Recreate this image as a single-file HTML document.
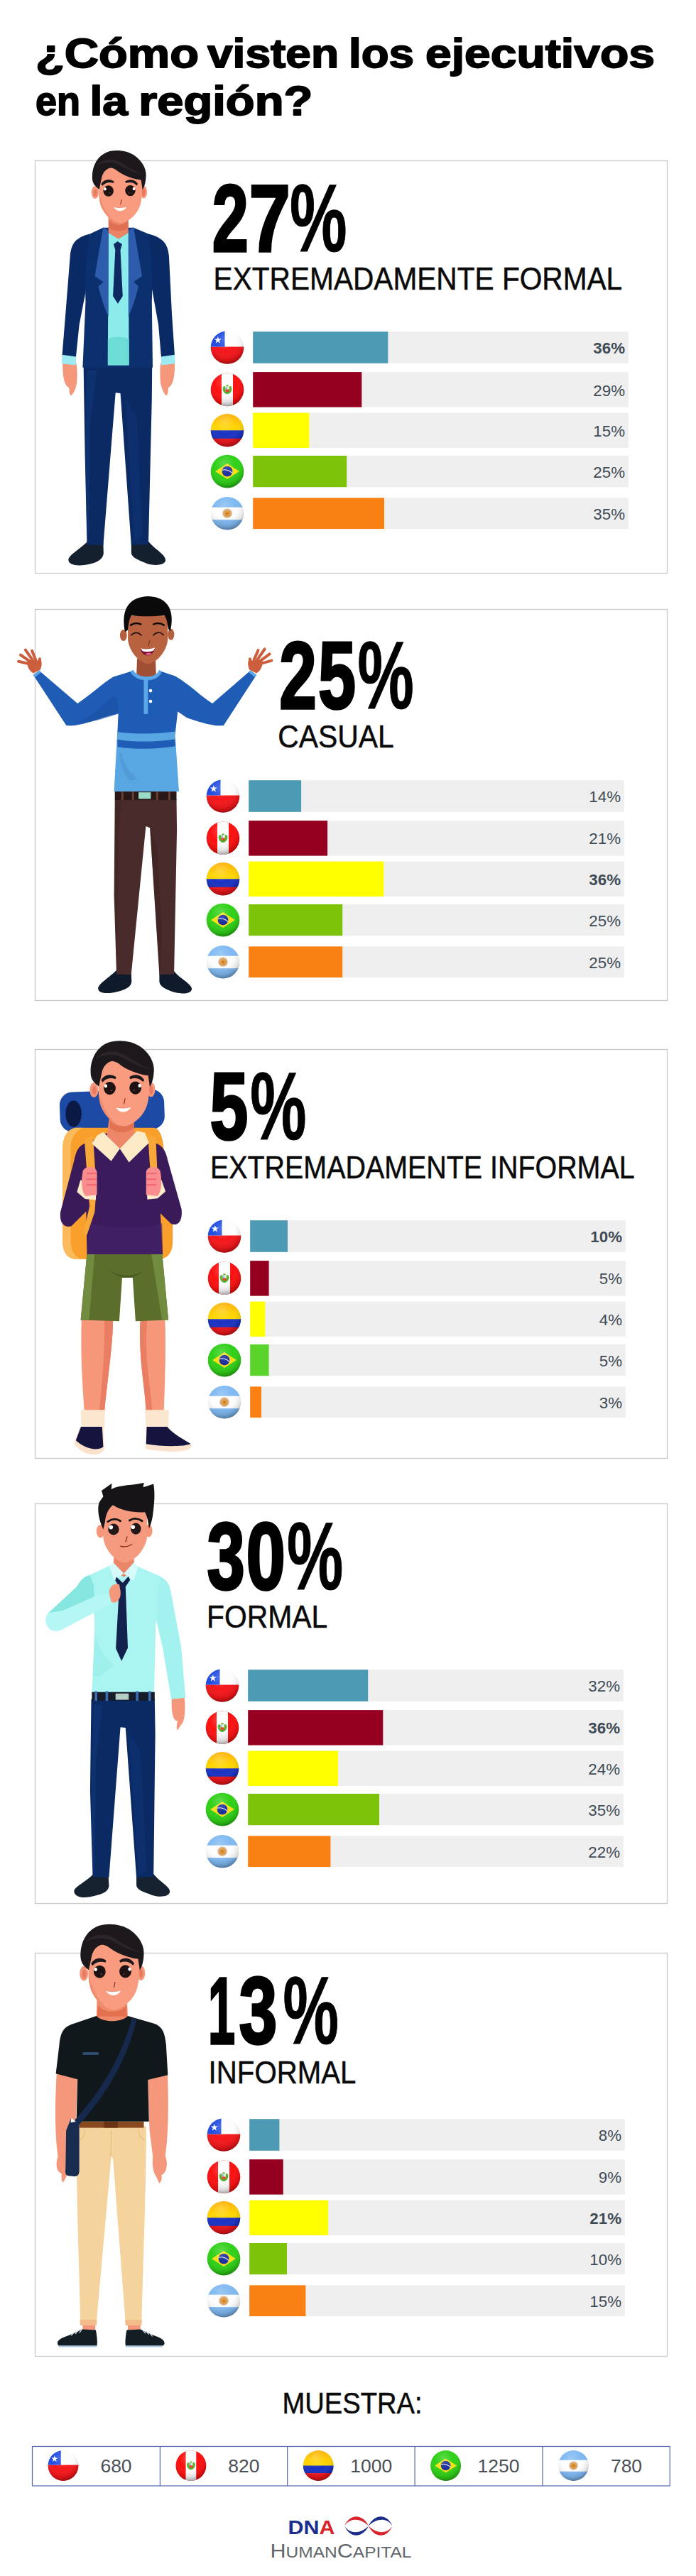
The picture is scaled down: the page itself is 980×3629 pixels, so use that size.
<!DOCTYPE html>
<html lang="es"><head><meta charset="utf-8"><title>¿Cómo visten los ejecutivos en la región?</title>
<style>
html,body{margin:0;padding:0;background:#fff}
svg{display:block}
text{font-family:"Liberation Sans",Arial,sans-serif}
.t{font-weight:bold;font-size:56.5px;fill:#000;stroke:#000;stroke-width:1.8px;stroke-linejoin:round}
.num{font-weight:bold;font-size:133.5px;fill:#000;stroke:#000;stroke-width:3.6px;stroke-linejoin:miter}
.npc{font-size:136px;stroke-width:1.2px}
.lab{font-size:44.6px;fill:#0a0a0a;stroke:#0a0a0a;stroke-width:.5px}
.pc{font-size:22.3px;fill:#3f4b55;text-anchor:end}
.pcb{font-weight:bold}
.tn{font-size:26.5px;fill:#4a4f55}
.panel{fill:#fff;stroke:#c9c9c9;stroke-width:1.3}
.trk{fill:#efefef}
</style></head><body>
<svg width="980" height="3629" viewBox="0 0 980 3629">
<defs>
<clipPath id="fc"><circle r="23.3"/></clipPath>
<radialGradient id="fsh" cx="0.45" cy="0.32" r="0.72" fx="0.42" fy="0.25">
<stop offset="0" stop-color="#fff" stop-opacity=".22"/><stop offset=".45" stop-color="#fff" stop-opacity="0"/>
<stop offset=".8" stop-color="#000" stop-opacity=".12"/><stop offset="1" stop-color="#000" stop-opacity=".42"/></radialGradient>
<linearGradient id="coy" x1="0" y1="0" x2="0" y2="1"><stop offset="0" stop-color="#ffb010"/><stop offset=".7" stop-color="#ffd200"/><stop offset="1" stop-color="#ffd800"/></linearGradient>
<g id="fl-cl"><g clip-path="url(#fc)"><rect x="-24" y="-24" width="48" height="24" fill="#fdfdfd"/><rect x="-24" y="-1" width="48" height="25" fill="#f5161a"/><rect x="-24" y="-24" width="20.5" height="23" fill="#1f4be0"/>
<path fill="#fff" d="M-13.2,-15.6l1.25,3.6h3.8l-3.05,2.3 1.15,3.65-3.15-2.2-3.15,2.2 1.15-3.65-3.05-2.3h3.8z"/></g><circle r="23.3" fill="url(#fsh)"/></g>
<g id="fl-pe"><g clip-path="url(#fc)"><rect x="-24" y="-24" width="48" height="48" fill="#fb1010"/><rect x="-8" y="-24" width="16" height="48" fill="#fbfbfb"/>
<path fill="#4fb02a" d="M-6.4,-1.5C-6.4,-4 -4.5,-5.5 -3,-4.5L-2.2,-2.5 2.2,-2.5 3,-4.5C4.5,-5.5 6.4,-4 6.4,-1.5C6.4,3 3.5,6 0,6.2C-3.500,6 -6.4,3 -6.4,-1.500z"/><rect x="-2.6" y="-3.4" width="5.2" height="6.6" rx="1.2" fill="#f0c030"/><rect x="-2.6" y="-3.4" width="2.6" height="3" fill="#7ab8e0"/><rect x="0" y="-3.4" width="2.600" height="3" fill="#f4f4f4"/><rect x="-2.6" y="-.4" width="5.200" height="3.600" rx="1" fill="#e04030"/><rect x="-1.8" y="-6.6" width="3.6" height="2.2" rx="1" fill="#58a82c"/></g><circle r="23.3" fill="url(#fsh)"/></g>
<g id="fl-co"><g clip-path="url(#fc)"><rect x="-24" y="-24" width="48" height="24.5" fill="url(#coy)"/><rect x="-24" y="0" width="48" height="12" fill="#1a32c4"/><rect x="-24" y="11.5" width="48" height="13" fill="#f0161c"/></g><circle r="23.3" fill="url(#fsh)"/></g>
<g id="fl-br"><g clip-path="url(#fc)"><rect x="-24" y="-24" width="48" height="48" fill="#2fd018"/><path fill="#f7e018" d="M-17,0L0,-11 17,0 0,11z"/><circle r="7.4" fill="#1c2f9c"/><path d="M-7,-1.8C-2,-3.4 4,-1 7.2,2.6" fill="none" stroke="#e8f0ff" stroke-width="1.1"/></g><circle r="23.3" fill="url(#fsh)"/></g>
<g id="fl-ar"><g clip-path="url(#fc)"><rect x="-24" y="-24" width="48" height="48" fill="#fdfdfd"/><rect x="-24" y="-24" width="48" height="15.5" fill="#7fb9f2"/><rect x="-24" y="9" width="48" height="15" fill="#7fb9f2"/><circle r="6.6" fill="#d8a878"/><circle r="4" fill="#e0932c"/><circle r="1.4" fill="#b86a20"/></g><circle r="23.3" fill="url(#fsh)"/></g>

<g id="hd">
<ellipse cx="140" cy="448" rx="30" ry="52" fill="#f4977b"/><ellipse cx="540" cy="445" rx="28" ry="52" fill="#f4977b"/>
<ellipse cx="142" cy="452" rx="14" ry="30" fill="#e87a60"/><ellipse cx="540" cy="449" rx="13" ry="30" fill="#e87a60"/>
<path fill="#f89b7e" d="M170,240 L172,470 C176,520 184,548 192,570 C215,620 250,660 290,682 C320,698 335,702 350,702 C365,702 380,698 408,682 C448,660 485,620 506,570 C514,548 522,520 526,470 L528,240Z"/>
<path fill="#ee8468" d="M172,470 C176,520 184,548 192,570 C215,620 250,660 290,682 C250,640 215,590 200,540Z" opacity=".7"/>
<path fill="#1c181c" d="M118,345 C108,250 150,150 240,116 C300,94 400,98 470,148 C530,192 566,258 559,322 C557,362 548,398 531,428 L519,346 C470,344 380,312 330,276 C300,252 280,246 262,247 C226,256 202,290 194,330 L174,424 C150,404 124,384 118,345Z"/>
<path fill="#2b2429" d="M150,230 C200,170 290,160 360,205 C420,245 490,290 555,300 C500,300 420,270 350,228 C290,190 210,195 150,230Z"/>
<ellipse cx="250" cy="436" rx="42" ry="45" fill="#1e1212"/><ellipse cx="430" cy="434" rx="42" ry="45" fill="#1e1212"/>
<ellipse cx="222" cy="420" rx="11" ry="13" fill="#fff"/><ellipse cx="460" cy="418" rx="11" ry="13" fill="#fff"/>
<circle cx="262" cy="452" r="5" fill="#6a4a40"/><circle cx="420" cy="452" r="5" fill="#6a4a40"/>
<path fill="#1c181c" d="M190,380 C212,338 262,332 296,358 L290,372 C262,360 225,366 200,394Z"/><path fill="#1c181c" d="M388,358 C422,332 468,338 492,378 L484,392 C460,366 425,360 394,372Z"/>
<path d="M358,508 L350,546" stroke="#6a2418" stroke-width="5" fill="none" stroke-linecap="round"/>
<path fill="#fff" d="M292,568 Q346,584 402,566 Q380,602 346,602 Q312,602 292,568Z"/>
<path d="M292,568 Q346,584 402,566" stroke="#e27a60" stroke-width="3" fill="none"/>
</g>

</defs>
<rect width="980" height="3629" fill="#fff"/>
<g id="title"><text class="t" x="50.0" y="94.7" textLength="230.0" lengthAdjust="spacingAndGlyphs">¿Cómo</text><text class="t" x="292.0" y="94.7" textLength="185.0" lengthAdjust="spacingAndGlyphs">visten</text><text class="t" x="491.0" y="94.7" textLength="92.0" lengthAdjust="spacingAndGlyphs">los</text><text class="t" x="599.0" y="94.7" textLength="323.0" lengthAdjust="spacingAndGlyphs">ejecutivos</text><text class="t" x="50.0" y="161.5" textLength="63.0" lengthAdjust="spacingAndGlyphs">en</text><text class="t" x="126.4" y="161.5" textLength="53.6" lengthAdjust="spacingAndGlyphs">la</text><text class="t" x="195.3" y="161.5" textLength="245.0" lengthAdjust="spacingAndGlyphs">región?</text></g>

<g id="panel1">
<rect class="panel" x="49.5" y="226.5" width="890" height="581"/>
<g id="fig1" transform="translate(40,200) scale(0.4023)">
<!-- shoes -->
<path fill="#15202e" d="M208,1398 L262,1402 L263,1440 C262,1462 238,1476 200,1481 C165,1486 140,1480 140,1463 C140,1448 180,1425 208,1398Z"/>
<path fill="#15202e" d="M360,1402 L420,1398 C440,1425 482,1445 480,1465 C478,1484 440,1484 418,1478 C392,1466 362,1458 360,1440Z"/>
<!-- trousers -->
<path fill="#0b2a63" d="M193,785 L433,785 L432,900 L420,1410 L360,1412 L322,880 L305,878 L262,1412 L205,1410 L198,1100Z"/>
<path fill="#123a80" d="M205,800 L240,800 L215,1000 L212,1380 L205,1380 L199,1100Z" opacity=".45"/>
<path fill="#123a80" d="M340,900 L380,960 L400,1380 L370,1400Z" opacity=".35"/>
<!-- hands -->
<path fill="#f4977b" d="M120,770 L168,775 C172,810 172,842 166,858 C162,872 156,882 150,888 C142,884 144,870 142,860 C130,856 118,830 120,770Z"/>
<path fill="#f4977b" d="M462,775 L512,770 C514,830 502,856 490,860 C488,870 490,884 482,888 C476,882 470,872 466,858 C460,842 460,810 462,775Z"/>
<!-- sleeves -->
<path fill="#0a2a66" d="M215,322 C165,335 150,355 146,400 L130,600 L118,748 L166,756 L178,640 L205,500 L215,420Z"/>
<path fill="#0a2a66" d="M420,322 C470,335 488,355 492,400 L502,600 L512,748 L465,756 L455,640 L430,500 L420,420Z"/>
<!-- cuffs -->
<path fill="#9eeaf2" d="M118,745 L167,752 L166,782 L116,776Z"/>
<path fill="#9eeaf2" d="M464,752 L512,745 L514,776 L465,782Z"/>
<!-- jacket body -->
<path fill="#0c2f6e" d="M262,300 L215,322 C200,400 198,480 200,560 L190,790 L435,790 L432,560 C435,480 432,400 420,322 L368,300Z"/>
<!-- neck -->
<path fill="#ea8466" d="M280,262 L350,262 L350,330 L315,345 L280,330Z"/>
<path fill="#dc6a4c" d="M282,272 C300,296 334,296 349,272 L350,300 C334,316 298,316 281,300Z" opacity=".75"/>
<!-- shirt -->
<path fill="#8cecec" d="M280,318 L315,340 L350,318 L352,782 L278,782Z"/>
<path fill="#6edcd6" d="M278,690 C300,680 330,680 352,690 L352,782 L278,782Z"/>
<!-- lapels -->
<path fill="#2c5cab" d="M262,298 L280,310 L280,612 C262,570 250,530 245,505 L262,490 L232,470Z"/>
<path fill="#2c5cab" d="M368,298 L350,310 L350,612 C368,570 380,530 385,505 L368,490 L398,470Z"/>
<!-- tie -->
<path fill="#0d2a63" d="M298,358 L312,348 L328,358 L322,378 L330,540 L313,566 L296,540 L304,378Z"/>
<use href="#hd" transform="translate(173.8,-13.9) scale(0.425)"/>
</g>

<text class="num" x="298.8" y="353.5" textLength="51.1" lengthAdjust="spacingAndGlyphs">2</text>
<text class="num" x="350.7" y="353.5" textLength="58.1" lengthAdjust="spacingAndGlyphs">7</text>
<text class="num npc" x="408.1" y="353.5" textLength="80.5" lengthAdjust="spacingAndGlyphs">%</text>
<text class="lab" x="300.6" y="408.1" textLength="575.6" lengthAdjust="spacingAndGlyphs">EXTREMADAMENTE FORMAL</text>
<rect class="trk" x="356.2" y="467.2" width="528.6" height="44.6"/>
<rect fill="#4d9ab5" x="356.2" y="467.2" width="190.1" height="44.6"/>
<use href="#fl-cl" x="320.0" y="489.5"/>
<text class="pc pcb" x="880.0" y="498.1">36%</text>
<rect class="trk" x="356.2" y="524.1" width="528.6" height="49.5"/>
<rect fill="#960020" x="356.2" y="524.1" width="153.1" height="49.5"/>
<use href="#fl-pe" x="320.0" y="548.9"/>
<text class="pc" x="880.0" y="557.5">29%</text>
<rect class="trk" x="356.2" y="581.6" width="528.6" height="49.4"/>
<rect fill="#ffff00" x="356.2" y="581.6" width="79.2" height="49.4"/>
<use href="#fl-co" x="320.0" y="606.3"/>
<text class="pc" x="880.0" y="614.9">15%</text>
<rect class="trk" x="356.2" y="642.0" width="528.6" height="44.2"/>
<rect fill="#7dc30a" x="356.2" y="642.0" width="132.0" height="44.2"/>
<use href="#fl-br" x="320.0" y="664.1"/>
<text class="pc" x="880.0" y="672.7">25%</text>
<rect class="trk" x="356.2" y="701.4" width="528.6" height="43.7"/>
<rect fill="#f98012" x="356.2" y="701.4" width="184.8" height="43.7"/>
<use href="#fl-ar" x="320.0" y="723.2"/>
<text class="pc" x="880.0" y="731.9">35%</text>
</g>
<g id="panel2">
<rect class="panel" x="49.5" y="858.5" width="890" height="551"/>
<g id="fig2" transform="translate(10,830) scale(0.28736)">
<!-- shoes -->
<path fill="#0f1b2b" d="M536,1868 L608,1876 L610,1925 C606,1952 580,1962 545,1972 C500,1985 448,1985 446,1958 C446,1935 500,1905 536,1868Z"/>
<path fill="#0f1b2b" d="M746,1882 L818,1872 C840,1905 905,1935 905,1960 C902,1988 850,1984 815,1975 C780,1962 750,1950 746,1925Z"/>
<!-- trousers -->
<path fill="#4a2b2b" d="M528,1030 L830,1030 L832,1180 L818,1888 L746,1890 L700,1170 L680,1162 L608,1890 L536,1888 L524,1500Z"/>
<path fill="#3a2020" d="M700,1170 L735,1260 L760,1700 L748,1890Z" opacity=".5"/>
<path fill="#3a2020" d="M530,1040 L560,1040 L545,1200 L540,1800 L530,1500Z" opacity=".4"/>
<!-- hands -->
<g fill="#cc5e3e" stroke="#cc5e3e" stroke-linecap="round">
<path stroke="none" d="M128,412 L162,396 C174,370 170,345 160,338 L150,350 L100,345 C94,372 106,398 128,412Z"/>
<path fill="none" stroke-width="14" d="M110,366 L56,354 M112,354 L66,322 M124,346 L90,298 M140,346 L122,302 M156,368 L160,342"/>
<path stroke="none" d="M1222,412 L1188,396 C1176,370 1180,345 1190,338 L1200,350 L1250,345 C1256,372 1244,398 1222,412Z"/>
<path fill="none" stroke-width="14" d="M1240,366 L1296,350 M1238,354 L1286,318 M1226,346 L1262,294 M1210,346 L1230,300 M1194,368 L1190,342"/>
</g>
<!-- arms -->
<path fill="#1f5cb6" d="M620,400 L520,430 C470,460 400,525 345,560 L158,400 L128,420 L290,668 C330,675 400,655 470,630 L545,610Z"/>
<path fill="#1f5cb6" d="M741,400 L821,425 C880,455 950,525 1006,560 L1191,400 L1222,420 L1061,668 C1020,675 950,655 880,630 L836,600Z"/>
<path fill="#5aa6e6" d="M158,398 L128,420 L136,432 L166,408Z"/><path fill="#5aa6e6" d="M1192,398 L1222,420 L1214,432 L1184,408Z"/>
<path fill="#1a4fa0" d="M520,520 C480,560 420,620 350,650 C420,660 480,630 545,612 L560,560Z" opacity=".55"/>
<!-- neck -->
<path fill="#a04e34" d="M637,340 L727,340 L730,420 L684,450 L634,420Z"/>
<!-- torso -->
<path fill="#1f5cb6" d="M610,402 L530,430 L545,610 L540,715 L823,715 L836,600 L830,430 L752,402 C730,440 640,440 610,402Z"/>
<path fill="#58a6e2" d="M540,700 C640,712 740,710 822,698 L842,992 L524,992Z"/>
<path fill="#1f5cb6" d="M540,738 C640,752 740,748 823,736 L825,770 C740,784 640,786 542,774Z"/>
<path fill="#4a90d0" d="M560,800 C570,860 600,900 640,930 L600,940 C570,900 555,860 550,810Z" opacity=".5"/>
<!-- collar + placket -->
<path fill="#5aa6e6" d="M618,396 C640,440 730,440 745,396 L758,404 C740,462 630,462 604,404Z"/>
<rect x="670" y="440" width="20" height="172" fill="#5aa6e6"/>
<circle cx="703" cy="498" r="8" fill="#fff"/><circle cx="703" cy="550" r="8" fill="#fff"/>
<!-- belt -->
<rect x="528" y="992" width="302" height="42" fill="#2a1818"/><rect x="644" y="996" width="60" height="32" fill="#9adcc8"/>
<rect x="560" y="992" width="10" height="42" fill="#6a4030"/><rect x="612" y="992" width="10" height="42" fill="#6a4030"/><rect x="730" y="992" width="10" height="42" fill="#6a4030"/><rect x="790" y="992" width="10" height="42" fill="#6a4030"/>
<!-- ears -->
<ellipse cx="570" cy="226" rx="17" ry="28" fill="#b5603e"/><ellipse cx="803" cy="222" rx="16" ry="28" fill="#b5603e"/>
<!-- face -->
<path fill="#b8623f" d="M592,130 L592,250 C600,310 650,362 690,368 C730,362 780,310 787,250 L787,130Z"/>
<!-- hair -->
<path fill="#0a0a0a" d="M578,210 C560,120 580,40 690,35 C800,38 820,120 800,205 L790,195 C785,160 780,140 770,128 C720,135 650,135 610,128 C598,145 595,170 592,200Z"/>
<!-- face details -->
<path d="M606,176 Q630,160 655,172 M718,172 Q744,160 768,176" stroke="#0a0a0a" stroke-width="9" fill="none" stroke-linecap="round"/>
<path d="M608,226 Q632,200 658,226 M716,226 Q742,200 766,224" stroke="#1a0a0a" stroke-width="5" fill="none" stroke-linecap="round"/>
<path d="M700,250 L692,278" stroke="#5a2018" stroke-width="3" fill="none"/>
<path fill="#7a1030" d="M652,292 Q690,300 727,286 Q712,330 680,324 Q660,318 652,292Z"/>
<path fill="#fff" d="M654,291 Q690,299 726,286 Q720,300 712,304 Q686,310 664,304Z"/>
<path fill="#f06090" d="M676,318 Q692,308 708,316 Q694,328 676,318Z"/>
</g>

<text class="num" x="393.2" y="997.5" textLength="52.6" lengthAdjust="spacingAndGlyphs">2</text>
<text class="num" x="447.9" y="997.5" textLength="53.1" lengthAdjust="spacingAndGlyphs">5</text>
<text class="num npc" x="503.6" y="997.5" textLength="79.2" lengthAdjust="spacingAndGlyphs">%</text>
<text class="lab" x="391.2" y="1053.0" textLength="163.6" lengthAdjust="spacingAndGlyphs">CASUAL</text>
<rect class="trk" x="350.2" y="1099.2" width="528.6" height="44.6"/>
<rect fill="#4d9ab5" x="350.2" y="1099.2" width="73.9" height="44.6"/>
<use href="#fl-cl" x="314.0" y="1121.5"/>
<text class="pc" x="874.0" y="1130.1">14%</text>
<rect class="trk" x="350.2" y="1156.1" width="528.6" height="49.5"/>
<rect fill="#960020" x="350.2" y="1156.1" width="110.9" height="49.5"/>
<use href="#fl-pe" x="314.0" y="1180.8"/>
<text class="pc" x="874.0" y="1189.4">21%</text>
<rect class="trk" x="350.2" y="1213.6" width="528.6" height="49.4"/>
<rect fill="#ffff00" x="350.2" y="1213.6" width="190.1" height="49.4"/>
<use href="#fl-co" x="314.0" y="1238.3"/>
<text class="pc pcb" x="874.0" y="1246.9">36%</text>
<rect class="trk" x="350.2" y="1274.0" width="528.6" height="44.2"/>
<rect fill="#7dc30a" x="350.2" y="1274.0" width="132.0" height="44.2"/>
<use href="#fl-br" x="314.0" y="1296.1"/>
<text class="pc" x="874.0" y="1304.7">25%</text>
<rect class="trk" x="350.2" y="1333.4" width="528.6" height="43.7"/>
<rect fill="#f98012" x="350.2" y="1333.4" width="132.0" height="43.7"/>
<use href="#fl-ar" x="314.0" y="1355.2"/>
<text class="pc" x="874.0" y="1363.8">25%</text>
</g>
<g id="panel3">
<rect class="panel" x="49.5" y="1478.5" width="890" height="576"/>
<g id="fig3" transform="translate(40,1450) scale(0.4023)">
<!-- sleeping roll -->
<rect x="110" y="215" width="366" height="140" rx="45" fill="#1c4aa4" transform="rotate(-2 293 285)"/>
<ellipse cx="158" cy="296" rx="28" ry="46" fill="#0a1a44"/>
<!-- backpack -->
<path fill="#f9a02c" d="M165,345 L440,345 C462,350 470,380 474,420 L505,620 L505,740 C505,780 490,805 455,805 L170,805 C135,805 120,780 120,740 L120,420 C120,380 135,350 165,345Z"/>
<path fill="#fbba5c" d="M165,345 C135,350 120,380 120,420 L120,740 C120,780 135,805 170,805 L190,805 C160,800 148,770 148,740 L148,420 C148,385 160,360 190,345Z"/>
<!-- legs -->
<path fill="#f7977a" d="M186,1015 L296,1015 C296,1100 280,1200 266,1340 L196,1340 C190,1250 182,1150 186,1015Z"/>
<path fill="#ea7e62" d="M266,1015 L296,1015 C296,1100 280,1200 266,1340 L248,1340 C262,1200 268,1100 266,1015Z"/>
<path fill="#f7977a" d="M392,1015 L478,1015 C482,1100 478,1250 474,1340 L412,1340 C408,1250 384,1150 392,1015Z"/>
<path fill="#ea7e62" d="M392,1015 L416,1015 C404,1150 428,1250 434,1340 L412,1340 C408,1250 384,1150 392,1015Z"/>
<!-- socks -->
<path fill="#fbe6cf" d="M183,1333 L268,1333 L266,1400 L186,1400Z"/><path fill="#fbe6cf" d="M408,1333 L492,1333 L490,1398 L412,1398Z"/>
<!-- shoes -->
<path fill="#fbe2cc" d="M180,1392 L262,1392 L266,1470 C250,1500 190,1495 160,1452Z"/>
<path fill="#14143e" d="M184,1392 L258,1392 L262,1462 C240,1478 200,1470 166,1440Z"/>
<path fill="#fbe2cc" d="M412,1392 L488,1392 C510,1420 560,1445 572,1458 C568,1482 500,1484 410,1470Z"/>
<path fill="#14143e" d="M414,1392 L486,1392 C508,1420 552,1440 568,1452 C540,1462 470,1462 412,1452Z"/>
<!-- shorts -->
<path fill="#5c6e2c" d="M205,785 L468,785 L490,1018 L375,1022 L365,870 L328,870 L318,1022 L183,1018Z"/>
<path fill="#718b3f" d="M205,785 L232,785 L212,1019 L183,1018Z"/><path fill="#718b3f" d="M430,785 L468,785 L490,1018 L468,1019Z"/>
<path fill="#4a5a22" d="M285,845 Q345,880 405,845 Q345,895 285,845Z"/>
<!-- arms (sleeves) -->
<path fill="#3a1a58" d="M215,395 C180,400 168,420 160,460 L112,640 C108,680 125,695 150,690 L240,600 L180,560 L205,480Z"/>
<path fill="#3a1a58" d="M430,395 C465,400 480,420 488,460 L536,630 C540,670 525,690 500,682 L412,596 L470,560 L445,480Z"/>
<!-- torso -->
<path fill="#3c1b5c" d="M215,395 L270,365 L370,365 L430,395 L455,520 L470,788 L205,788 L200,520Z"/>
<path fill="#45236a" d="M215,680 C300,700 380,700 468,680 L470,788 L205,788Z" opacity=".6"/>
<!-- straps -->
<path fill="#f7a838" d="M196,385 L226,372 L238,560 L232,640 L205,720 L192,716 L214,620 L206,520Z"/>
<path fill="#f7a838" d="M418,368 L446,380 L452,520 L428,520Z"/>
<!-- neck -->
<path fill="#ee8668" d="M284,300 L368,300 L372,372 L320,420 L275,372Z"/>
<path fill="#dc6a4c" d="M286,318 C304,346 350,346 368,318 L370,344 C350,366 304,366 284,344Z" opacity=".7"/>
<!-- collar -->
<path fill="#fdebc8" d="M262,360 L240,372 L222,400 L290,462 L320,418 L352,466 L422,398 L408,362 L380,356 L320,418Z"/>
<!-- cuffs & hands -->
<path fill="#fdebc8" d="M182,528 L238,540 L236,598 L198,594 L170,570Z"/><path fill="#fdebc8" d="M466,528 L414,540 L416,596 L452,592 L480,568Z"/>
<path fill="#fa8e8e" d="M190,500 C192,478 235,474 240,500 L240,580 L200,584 C186,570 184,530 190,500Z"/>
<path fill="#fa8e8e" d="M462,500 C460,478 416,474 412,500 L412,580 L452,584 C466,570 468,530 462,500Z"/>
<path d="M206,505 h30 M206,525 h30 M206,545 h30 M416,505 h30 M416,525 h30 M416,545 h30" stroke="#f06a78" stroke-width="6" stroke-linecap="round"/>
<use href="#hd" transform="translate(159.5,-11.5) scale(0.5)"/>
</g>

<text class="num" x="295.6" y="1605.0" textLength="53.9" lengthAdjust="spacingAndGlyphs">5</text>
<text class="num npc" x="352.2" y="1605.0" textLength="79.2" lengthAdjust="spacingAndGlyphs">%</text>
<text class="lab" x="296.0" y="1659.5" textLength="597.6" lengthAdjust="spacingAndGlyphs">EXTREMADAMENTE INFORMAL</text>
<rect class="trk" x="352.2" y="1719.2" width="528.6" height="44.6"/>
<rect fill="#4d9ab5" x="352.2" y="1719.2" width="52.8" height="44.6"/>
<use href="#fl-cl" x="316.0" y="1741.5"/>
<text class="pc pcb" x="876.0" y="1750.1">10%</text>
<rect class="trk" x="352.2" y="1776.1" width="528.6" height="49.5"/>
<rect fill="#960020" x="352.2" y="1776.1" width="26.4" height="49.5"/>
<use href="#fl-pe" x="316.0" y="1800.8"/>
<text class="pc" x="876.0" y="1809.4">5%</text>
<rect class="trk" x="352.2" y="1833.6" width="528.6" height="49.4"/>
<rect fill="#ffff00" x="352.2" y="1833.6" width="21.1" height="49.4"/>
<use href="#fl-co" x="316.0" y="1858.3"/>
<text class="pc" x="876.0" y="1866.9">4%</text>
<rect class="trk" x="352.2" y="1894.0" width="528.6" height="44.2"/>
<rect fill="#5ad42a" x="352.2" y="1894.0" width="26.4" height="44.2"/>
<use href="#fl-br" x="316.0" y="1916.1"/>
<text class="pc" x="876.0" y="1924.7">5%</text>
<rect class="trk" x="352.2" y="1953.4" width="528.6" height="43.7"/>
<rect fill="#f98012" x="352.2" y="1953.4" width="15.8" height="43.7"/>
<use href="#fl-ar" x="316.0" y="1975.2"/>
<text class="pc" x="876.0" y="1983.8">3%</text>
</g>
<g id="panel4">
<rect class="panel" x="49.5" y="2118.5" width="890" height="563"/>
<g id="fig4" transform="translate(40,2080) scale(0.4023)">
<!-- shoes -->
<path fill="#172230" d="M228,1392 L280,1398 L282,1435 C278,1458 250,1466 215,1472 C185,1478 160,1470 160,1452 C160,1438 200,1420 228,1392Z"/>
<path fill="#172230" d="M378,1398 L438,1392 C458,1418 498,1438 495,1455 C492,1474 455,1474 432,1466 C405,1455 380,1450 378,1432Z"/>
<!-- trousers -->
<path fill="#0b2a63" d="M220,780 L442,780 L444,900 L438,1402 L378,1404 L340,880 L322,878 L282,1404 L225,1402 L216,1100Z"/>
<path fill="#123a80" d="M228,800 L258,800 L236,1000 L232,1380 L226,1380 L220,1100Z" opacity=".45"/>
<path fill="#123a80" d="M350,900 L392,960 L415,1380 L385,1398Z" opacity=".35"/>
<!-- right hand -->
<path fill="#f4977b" d="M502,770 L546,772 C550,810 548,845 540,862 L522,888 C516,882 520,868 522,856 C508,858 498,830 502,770Z"/>
<!-- right arm -->
<path fill="#a4f2f0" d="M440,345 C475,350 492,370 498,400 L535,600 L550,775 L500,780 L470,600 L440,470Z"/>
<!-- torso -->
<path fill="#aaf4f2" d="M285,312 L215,345 C225,400 232,470 232,540 L222,760 L440,760 L445,540 C448,470 455,400 462,350 L375,312Z"/>
<path fill="#8feae6" d="M232,540 C240,600 270,640 300,660 L250,700 L226,700Z" opacity=".4"/>
<!-- left arm -->
<path fill="#86e6e0" d="M215,345 C195,350 180,365 170,385 L70,478 L62,500 L120,520 L232,440 L228,380Z"/>
<path fill="#b4f7f5" d="M70,478 C55,495 58,520 75,535 C90,545 105,542 120,535 L300,440 L285,408 L232,420 L120,470Z"/>
<!-- neck -->
<path fill="#ec8668" d="M300,270 L368,270 L372,330 L334,352 L296,330Z"/>
<!-- collar -->
<path fill="#d6fbfa" d="M296,300 L284,316 L300,362 L334,340 L368,366 L384,318 L370,300 L334,340Z"/>
<!-- tie -->
<path fill="#12224c" d="M308,352 L330,372 L350,350 L356,362 L340,386 L348,600 L326,646 L306,602 L318,388 L304,364Z"/>
<!-- left hand -->
<path fill="#f4977b" d="M282,405 C284,385 300,372 318,378 L322,400 C325,420 318,438 300,442 L290,440Z"/>
<!-- belt -->
<rect x="222" y="755" width="220" height="30" fill="#161c28"/><rect x="305" y="760" width="46" height="22" fill="#b4cec6"/>
<rect x="232" y="752" width="9" height="34" fill="#3c6cb2"/><rect x="270" y="752" width="9" height="34" fill="#3c6cb2"/><rect x="376" y="752" width="9" height="34" fill="#3c6cb2"/><rect x="420" y="752" width="9" height="34" fill="#3c6cb2"/>
<!-- ears -->
<ellipse cx="252" cy="192" rx="14" ry="23" fill="#f4977b"/><ellipse cx="421" cy="190" rx="13" ry="22" fill="#f4977b"/>
<!-- face -->
<path fill="#f59a7e" d="M262,90 L262,215 C268,258 304,298 338,302 C370,298 408,258 415,215 L415,90Z"/>
<!-- hair -->
<path fill="#171417" d="M262,185 C245,150 240,110 248,90 L262,70 L256,50 L292,24 L290,45 C320,28 370,32 404,22 L402,38 L438,26 C444,60 440,100 436,130 C434,150 428,170 422,182 C420,160 416,140 408,125 C370,128 320,118 296,100 C280,112 270,135 268,160Z"/>
<!-- eyes -->
<ellipse cx="298" cy="185" rx="19" ry="20" fill="#231818"/><ellipse cx="376" cy="183" rx="18" ry="20" fill="#231818"/>
<circle cx="289" cy="178" r="7" fill="#fff"/><circle cx="366" cy="177" r="7" fill="#fff"/>
<path d="M278,158 Q300,142 322,156 M354,154 Q376,140 398,156" stroke="#171417" stroke-width="7" fill="none" stroke-linecap="round"/>
<path d="M346,210 L340,230" stroke="#7a2a20" stroke-width="3" fill="none"/>
<path d="M322,244 Q342,250 362,238" stroke="#8a3020" stroke-width="3.5" fill="none" stroke-linecap="round"/>
</g>

<text class="num" x="291.4" y="2238.5" textLength="53.4" lengthAdjust="spacingAndGlyphs">3</text>
<text class="num" x="346.6" y="2238.5" textLength="55.5" lengthAdjust="spacingAndGlyphs">0</text>
<text class="num npc" x="404.1" y="2238.5" textLength="79.2" lengthAdjust="spacingAndGlyphs">%</text>
<text class="lab" x="291.1" y="2293.0" textLength="170.1" lengthAdjust="spacingAndGlyphs">FORMAL</text>
<rect class="trk" x="349.2" y="2352.2" width="528.6" height="44.6"/>
<rect fill="#4d9ab5" x="349.2" y="2352.2" width="169.0" height="44.6"/>
<use href="#fl-cl" x="313.0" y="2374.5"/>
<text class="pc" x="873.0" y="2383.1">32%</text>
<rect class="trk" x="349.2" y="2409.1" width="528.6" height="49.5"/>
<rect fill="#960020" x="349.2" y="2409.1" width="190.1" height="49.5"/>
<use href="#fl-pe" x="313.0" y="2433.8"/>
<text class="pc pcb" x="873.0" y="2442.4">36%</text>
<rect class="trk" x="349.2" y="2466.6" width="528.6" height="49.4"/>
<rect fill="#ffff00" x="349.2" y="2466.6" width="126.7" height="49.4"/>
<use href="#fl-co" x="313.0" y="2491.3"/>
<text class="pc" x="873.0" y="2499.9">24%</text>
<rect class="trk" x="349.2" y="2527.0" width="528.6" height="44.2"/>
<rect fill="#7dc30a" x="349.2" y="2527.0" width="184.8" height="44.2"/>
<use href="#fl-br" x="313.0" y="2549.1"/>
<text class="pc" x="873.0" y="2557.7">35%</text>
<rect class="trk" x="349.2" y="2586.4" width="528.6" height="43.7"/>
<rect fill="#f98012" x="349.2" y="2586.4" width="116.2" height="43.7"/>
<use href="#fl-ar" x="313.0" y="2608.2"/>
<text class="pc" x="873.0" y="2616.8">22%</text>
</g>
<g id="panel5">
<rect class="panel" x="49.5" y="2751.5" width="890" height="568"/>
<g id="fig5" transform="translate(40,2720) scale(0.4023)">
<!-- arms -->
<path fill="#f4977b" d="M100,480 L172,500 L165,700 L150,795 L104,795 C92,720 92,600 100,480Z"/>
<path fill="#f4977b" d="M416,500 L486,480 C492,600 490,720 478,795 L436,795 L424,700Z"/>
<!-- hands -->
<path fill="#f4977b" d="M104,790 L150,790 C152,820 140,850 132,862 L122,882 C114,876 116,860 116,850 C100,845 92,820 104,790Z"/>
<path fill="#f4977b" d="M436,790 L480,790 C490,820 482,850 466,855 C468,868 466,878 458,884 L448,862 C436,845 432,820 436,790Z"/>
<!-- ankles -->
<rect x="190" y="1375" width="44" height="30" fill="#f4977b"/><rect x="348" y="1375" width="44" height="30" fill="#f4977b"/>
<!-- shoes -->
<path fill="#a8c4dc" d="M100,1448 L240,1448 L240,1458 L108,1458Z"/><path fill="#a8c4dc" d="M340,1448 L475,1448 L468,1458 L340,1458Z"/>
<path fill="#141c24" d="M188,1396 L236,1398 C240,1420 242,1440 240,1452 L106,1452 C96,1444 104,1430 128,1422 C150,1414 172,1404 188,1396Z"/>
<path fill="#141c24" d="M344,1398 L392,1396 C408,1404 430,1414 452,1422 C474,1430 482,1444 472,1452 L340,1452 C338,1440 340,1420 344,1398Z"/>
<path d="M150,1418 l10,-12 M164,1412 l10,-12 M178,1408 l8,-10 M400,1398 l10,12 M412,1402 l10,12 M424,1408 l10,12" stroke="#dfe8f0" stroke-width="3"/>
<!-- trousers -->
<path fill="#f5d39c" d="M170,685 L412,685 C414,800 404,1100 396,1372 L340,1372 L296,800 L290,790 L238,1372 L182,1372 C176,1100 166,900 170,685Z"/>
<path fill="#f2bd8a" d="M180,1362 L240,1362 L238,1382 L182,1382Z"/><path fill="#f2bd8a" d="M338,1362 L397,1362 L396,1382 L340,1382Z"/>
<path d="M290,700 L288,790 M195,695 Q200,720 178,735 M385,695 Q382,720 408,735" stroke="#e6bf86" stroke-width="3" fill="none"/>
<!-- belt -->
<rect x="178" y="668" width="226" height="22" fill="#8b4a1e"/><rect x="265" y="668" width="48" height="22" fill="#6a3414"/>
<!-- neck -->
<path fill="#f08a6a" d="M240,240 L345,240 L348,310 L292,330 L238,310Z"/>
<path fill="#e06a4a" d="M244,262 C270,290 320,290 342,262 L345,300 L240,300Z" opacity=".8"/>
<!-- t-shirt -->
<path fill="#10181c" d="M238,298 C260,322 325,322 348,298 L440,325 C470,335 478,360 482,400 L488,505 L418,522 L422,668 L168,668 L172,520 L96,500 L108,400 C112,360 120,340 150,328Z"/>
<rect x="190" y="425" width="56" height="10" rx="3" fill="#2c4c6e"/>
<!-- strap -->
<path fill="#16294c" d="M364,304 L379,311 C340,470 260,590 170,688 L152,674 C240,580 320,460 364,304Z"/>
<!-- bag -->
<path fill="#182c50" d="M150,655 L178,680 L178,840 C178,856 170,860 160,860 L140,858 C130,856 128,848 130,835 L132,700Z"/>
<path fill="#fff" d="M150,655 L166,668 L148,672Z"/>
<use href="#hd" transform="translate(124.3,-74.6) scale(0.5)"/>
</g>

<text class="num" x="293.0" y="2879.0" textLength="38.1" lengthAdjust="spacingAndGlyphs">1</text>
<text class="num" x="336.6" y="2879.0" textLength="53.9" lengthAdjust="spacingAndGlyphs">3</text>
<text class="num npc" x="398.5" y="2879.0" textLength="78.4" lengthAdjust="spacingAndGlyphs">%</text>
<text class="lab" x="293.6" y="2934.5" textLength="207.8" lengthAdjust="spacingAndGlyphs">INFORMAL</text>
<rect class="trk" x="351.2" y="2985.2" width="528.6" height="44.6"/>
<rect fill="#4d9ab5" x="351.2" y="2985.2" width="42.2" height="44.6"/>
<use href="#fl-cl" x="315.0" y="3007.5"/>
<text class="pc" x="875.0" y="3016.1">8%</text>
<rect class="trk" x="351.2" y="3042.1" width="528.6" height="49.5"/>
<rect fill="#960020" x="351.2" y="3042.1" width="47.5" height="49.5"/>
<use href="#fl-pe" x="315.0" y="3066.8"/>
<text class="pc" x="875.0" y="3075.4">9%</text>
<rect class="trk" x="351.2" y="3099.6" width="528.6" height="49.4"/>
<rect fill="#ffff00" x="351.2" y="3099.6" width="110.9" height="49.4"/>
<use href="#fl-co" x="315.0" y="3124.3"/>
<text class="pc pcb" x="875.0" y="3132.9">21%</text>
<rect class="trk" x="351.2" y="3160.0" width="528.6" height="44.2"/>
<rect fill="#7dc30a" x="351.2" y="3160.0" width="52.8" height="44.2"/>
<use href="#fl-br" x="315.0" y="3182.1"/>
<text class="pc" x="875.0" y="3190.7">10%</text>
<rect class="trk" x="351.2" y="3219.4" width="528.6" height="43.7"/>
<rect fill="#f98012" x="351.2" y="3219.4" width="79.2" height="43.7"/>
<use href="#fl-ar" x="315.0" y="3241.2"/>
<text class="pc" x="875.0" y="3249.8">15%</text>
</g>
<text class="lab" style="font-size:43px" x="397.5" y="3399.8" textLength="197" lengthAdjust="spacingAndGlyphs">MUESTRA:</text>
<g id="muestra"><rect x="45.5" y="3446.5" width="897.7" height="55.5" fill="#fff" stroke="#5866b0" stroke-width="1.2"/>
<line x1="225.4" y1="3446.5" x2="225.4" y2="3502" stroke="#5866b0" stroke-width="1.2"/>
<line x1="404.7" y1="3446.5" x2="404.7" y2="3502" stroke="#5866b0" stroke-width="1.2"/>
<line x1="584.1" y1="3446.5" x2="584.1" y2="3502" stroke="#5866b0" stroke-width="1.2"/>
<line x1="764.0" y1="3446.5" x2="764.0" y2="3502" stroke="#5866b0" stroke-width="1.2"/>
<use href="#fl-cl" x="89.0" y="3473.5" transform="translate(7.12,277.88) scale(.92)"/>
<text class="tn" x="163.5" y="3483" text-anchor="middle">680</text>
<use href="#fl-pe" x="268.9" y="3473.5" transform="translate(21.51,277.88) scale(.92)"/>
<text class="tn" x="343.4" y="3483" text-anchor="middle">820</text>
<use href="#fl-co" x="448.2" y="3473.5" transform="translate(35.86,277.88) scale(.92)"/>
<text class="tn" x="522.7" y="3483" text-anchor="middle">1000</text>
<use href="#fl-br" x="627.6" y="3473.5" transform="translate(50.21,277.88) scale(.92)"/>
<text class="tn" x="702.1" y="3483" text-anchor="middle">1250</text>
<use href="#fl-ar" x="807.5" y="3473.5" transform="translate(64.60,277.88) scale(.92)"/>
<text class="tn" x="882.0" y="3483" text-anchor="middle">780</text>
</g>
<g id="logo">
<text x="405.5" y="3569.6" style="font-weight:bold;font-size:27.6px" textLength="66" lengthAdjust="spacingAndGlyphs"><tspan fill="#1c2d8c">DN</tspan><tspan fill="#d9222a">A</tspan></text>
<path fill="#d9222a" d="M485,3558.5 C494,3539 512,3543 519,3558.5 C526,3574 544,3578 552.5,3558.5 C544,3572 528,3568 519,3558.5 C510,3549 494,3545 485,3558.5Z"/>
<path fill="#1c2d8c" d="M485,3558.5 C494,3578 512,3574 519,3558.5 C526,3543 544,3539 552.5,3558.5 C544,3545 528,3549 519,3558.5 C510,3568 494,3572 485,3558.5Z"/>
<text x="380.5" y="3602.6" fill="#63666a" textLength="199" lengthAdjust="spacingAndGlyphs" style="font-size:22.5px"><tspan style="font-size:28px">H</tspan>UMAN<tspan style="font-size:28px">C</tspan>APITAL</text>
</g>

</svg></body></html>
